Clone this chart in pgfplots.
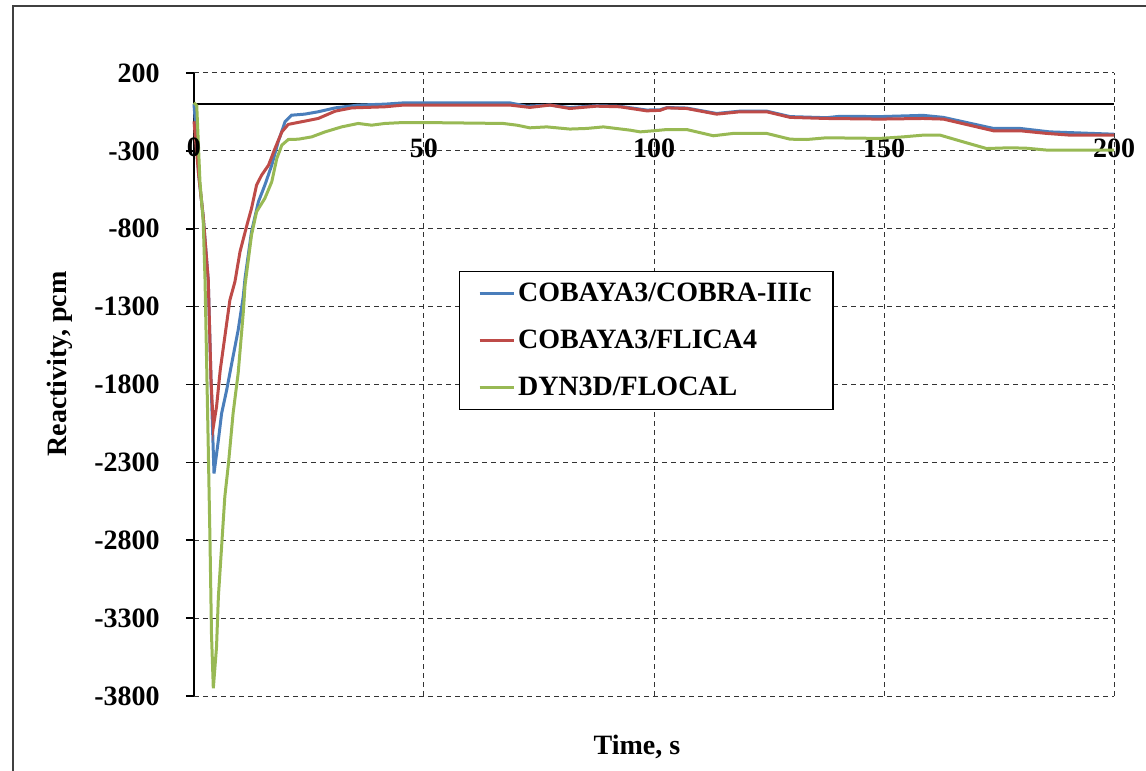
\documentclass[border=0pt]{standalone}
\usepackage{fontspec}
\setmainfont{Liberation Serif}
\usepackage{pgfplots}
\pgfplotsset{compat=1.18}
\definecolor{cblue}{RGB}{74,126,187}
\definecolor{cred}{RGB}{190,75,72}
\definecolor{cgreen}{RGB}{152,185,84}
\newcommand{\lbl}{\bfseries\fontsize{14}{16}\selectfont}
\begin{document}
\begin{tikzpicture}
\path[use as bounding box] (-97pt,-37.5pt) rectangle (476pt,348pt);
\begin{scope}
\clip (-97pt,-37.5pt) rectangle (476pt,348pt);
\draw[black!75, line width=0.6pt] (-90.5pt,-80pt) rectangle (540pt,345pt);
\end{scope}
\begin{axis}[
  at={(0pt,0pt)}, anchor=south west,
  scale only axis, width=460pt, height=311.5pt,
  xmin=0, xmax=200, ymin=-3800, ymax=200,
  axis x line=middle, axis y line=left,
  hide obscured x ticks=false, hide obscured y ticks=false,
  x axis line style={-, black, line width=1pt},
  y axis line style={-, black, line width=1pt},
  xtick={0,50,100,150,200}, xticklabels={,50,100,150,200},
  ytick={200,-300,-800,-1300,-1800,-2300,-2800,-3300,-3800},
  yticklabels={200,-300,-800,-1300,-1800,-2300,-2800,-3300,-3800},
  xtick style={draw=none},
  ytick style={black, line width=0.8pt},
  tick align=outside, major tick length=4pt,
  xticklabel style={font=\lbl, anchor=center, inner sep=0pt, yshift=-18pt},
  yticklabel style={font=\lbl, anchor=east, inner sep=0pt, xshift=-13pt},
  grid=major,
  major grid style={black!80, line width=0.5pt, dash pattern=on 2.5pt off 2pt},
  legend cell align=left,
  legend image code/.code={\draw[#1, line width=1.5pt] (0pt,0pt) -- (17pt,0pt);},
  legend style={at={(rel axis cs:0.288,0.682)}, anchor=north west, draw=black,
    line width=0.6pt, fill=white, font=\lbl, inner xsep=9.25pt, inner ysep=4pt,
    row sep=9.75pt, nodes={inner sep=1.5pt}},
  clip=false,
]
\addplot[cblue, line width=1.5pt] coordinates {
(0,0) (0.5,-200) (1,-450) (2,-720) (3.1,-1130) (3.7,-1770) (4.05,-2100) (4.35,-2371)
(5.3,-2157) (6.0,-1986) (7.1,-1836) (8.2,-1665) (9.6,-1451) (10.7,-1237) (11.1,-1117)
(12.5,-820) (14.0,-627) (15.4,-520) (16.9,-392) (18.3,-242) (19.8,-113) (21.2,-71)
(24.1,-64) (27,-49) (30.7,-24) (35.7,-6) (41.5,0) (45.5,8) (68.7,8) (72.3,-13)
(77.4,-6) (81.7,-22) (87.5,-10) (92.6,-14) (98.4,-38) (101.3,-36) (102.8,-22)
(107.1,-25) (113.6,-60) (118.7,-45) (124.5,-45) (129.6,-80) (137.5,-87) (140.4,-78)
(149.1,-80) (158.5,-72) (162.9,-85) (173.8,-156) (179.6,-156) (186,-178) (200,-193)
};
\addlegendentry{COBAYA3/COBRA-IIIc}
\addplot[cred, line width=1.5pt] coordinates {
(0,-110) (1,-450) (2,-720) (3.1,-1130) (3.7,-1770) (4.2,-2072) (4.9,-1943) (5.7,-1708)
(6.4,-1558) (7.1,-1408) (7.8,-1258) (8.9,-1140) (10,-948) (11.5,-777) (12.5,-670)
(13.6,-520) (14.7,-456) (16.2,-392) (17.6,-285) (19.1,-178) (20.5,-130) (23.4,-113)
(27,-92) (30.7,-45) (34.3,-24) (41.5,-17) (45.5,-6) (68.7,-6) (73,-21) (77.4,-6)
(81.7,-28) (87.5,-13) (92.6,-17) (98.4,-43) (101.3,-40) (102.8,-24) (107.1,-28)
(113.6,-64) (118.7,-49) (124.5,-49) (129.6,-85) (137.5,-92) (149.1,-96) (158.5,-92)
(162.9,-96) (173.8,-171) (179.6,-171) (185.4,-188) (190.4,-199) (200,-199)
};
\addlegendentry{COBAYA3/FLICA4}
\addplot[cgreen, line width=1.5pt] coordinates {
(0,10) (0.6,-10) (1.3,-500) (2.0,-750) (2.4,-1130) (3.1,-2200) (3.5,-2842) (3.8,-3400)
(4.2,-3751) (4.9,-3484) (5.3,-3163) (6.0,-2842) (6.7,-2521) (7.5,-2306) (8.5,-1985)
(9.6,-1728) (10.7,-1343) (11.1,-1162) (12.5,-841) (13.6,-691) (15.4,-605) (16.9,-499)
(18.0,-349) (19.1,-263) (20.5,-227) (22.7,-225) (25.6,-210) (28.5,-178) (32.1,-146)
(35.7,-124) (38.6,-135) (41.5,-124) (45.5,-118) (49.8,-118) (67.2,-124) (70.2,-135)
(73,-152) (76.7,-146) (81.7,-160) (85.4,-156) (89,-146) (94.8,-167) (97,-178)
(99.9,-171) (102.8,-163) (107.1,-163) (112.9,-203) (117.2,-188) (124.5,-188)
(129.6,-225) (133.2,-227) (137.5,-216) (149.1,-220) (154.2,-210) (158.5,-199)
(162.2,-199) (167.2,-242) (172.3,-285) (177.4,-280) (181,-283) (185.4,-295) (200,-295)
};
\addlegendentry{DYN3D/FLOCAL}
\node[font=\lbl, inner sep=0pt, yshift=-21.5pt] at (axis cs:0,0) {0};
\node[font=\lbl, rotate=90] at (rel axis cs:-0.1457,0.533) {Reactivity, pcm};
\node[font=\lbl] at (rel axis cs:0.4815,-0.0819) {Time, s};
\end{axis}
\end{tikzpicture}
\end{document}
